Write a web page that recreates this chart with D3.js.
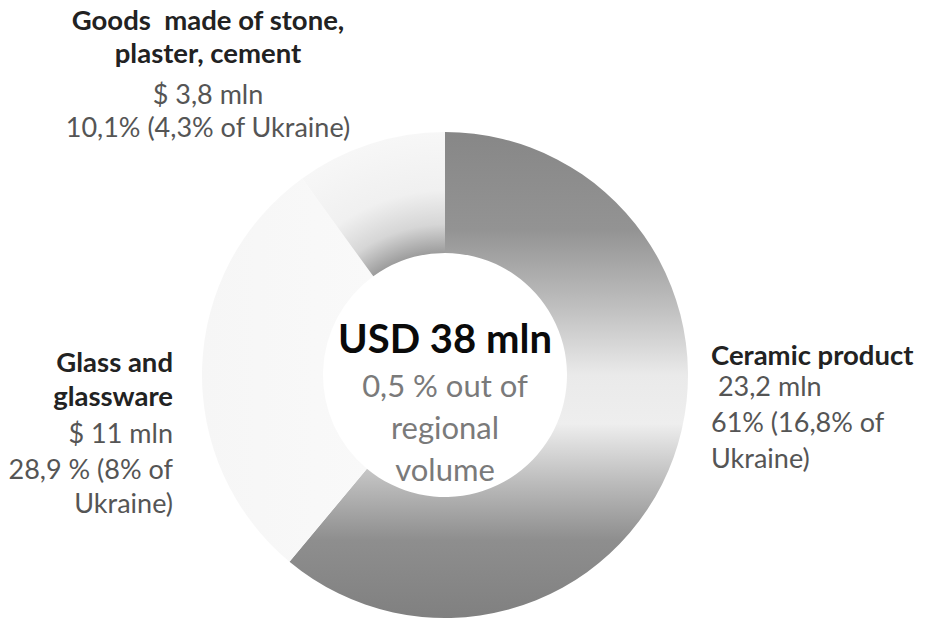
<!DOCTYPE html>
<html>
<head>
<meta charset="utf-8">
<script src="https://cdn.jsdelivr.net/npm/d3@7"></script>
<style>
  body { margin: 0; background: #ffffff; }
  svg { display: block; font-family: Lato, "Open Sans", sans-serif; }
</style>
</head>
<body>
<div id="chart"></div>
<script>
// slice data, clockwise from 12 o'clock
var categories = ['Ceramic product', 'Glass and glassware', 'Goods made of stone, plaster, cement'];
var values = [23.2, 11, 3.8];
var shares = ['61%', '28,9 %', '10,1%'];
var ukraineShares = ['16,8%', '8%', '4,3%'];

// text blocks as printed on the picture
var titleLines = [['Ceramic product'], ['Glass and', 'glassware'], ['Goods  made of stone,', 'plaster, cement']];
var detailLines = [[' 23,2 mln', '61% (16,8% of', 'Ukraine)'], ['$ 11 mln', '28,9 % (8% of', 'Ukraine)'], ['$ 3,8 mln', '10,1% (4,3% of Ukraine)']];
var centerTitle = 'USD 38 mln';
var centerLines = ['0,5 % out of', 'regional', 'volume'];

var width = 926, height = 620;
var cx = 445, cy = 375;
var outerR = 243, innerR = 122;

var svg = d3.select('#chart').append('svg')
  .attr('width', width)
  .attr('height', height);

var defs = svg.append('defs');

// gradients are in the ring's own coordinates (centre = 0,0)
// ceramic: dark top and bottom, washed out a bit below the middle
var gCer = defs.append('linearGradient')
  .attr('id', 'gradCeramic')
  .attr('gradientUnits', 'userSpaceOnUse')
  .attr('x1', 0).attr('x2', 0)
  .attr('y1', -outerR).attr('y2', outerR);
[[0, '#878787'], [0.2, '#939393'], [0.36, '#bfbfbf'], [0.5, '#eaeaea'], [0.6, '#eeeeee'], [0.72, '#bcbcbc'], [0.84, '#8e8e8e'], [1, '#808080']]
  .forEach(function (s) {
    gCer.append('stop').attr('offset', s[0]).attr('stop-color', s[1]);
  });

var gGlass = defs.append('linearGradient')
  .attr('id', 'gradGlass')
  .attr('x1', 0).attr('x2', 1).attr('y1', 0).attr('y2', 0);
gGlass.append('stop').attr('offset', 0).attr('stop-color', '#f6f6f6');
gGlass.append('stop').attr('offset', 1).attr('stop-color', '#f9f9f9');

// stone: grey along the hole, fading out towards the rim
var gStone = defs.append('radialGradient')
  .attr('id', 'gradStone')
  .attr('gradientUnits', 'userSpaceOnUse')
  .attr('cx', 0).attr('cy', 0).attr('r', outerR);
[[0, '#9a9a9a'], [innerR / outerR, '#9c9c9c'], [0.62, '#d6d6d6'], [0.76, '#f0f0f0'], [1, '#f7f7f7']]
  .forEach(function (s) {
    gStone.append('stop').attr('offset', s[0]).attr('stop-color', s[1]);
  });

var fills = ['url(#gradCeramic)', 'url(#gradGlass)', 'url(#gradStone)'];

var pie = d3.pie().sort(null).value(function (d) { return d; });
var arc = d3.arc().innerRadius(innerR).outerRadius(outerR);

var ring = svg.append('g').attr('transform', 'translate(' + cx + ',' + cy + ')');
ring.selectAll('path')
  .data(pie(values))
  .enter()
  .append('path')
  .attr('d', arc)
  .attr('fill', function (d, i) { return fills[i]; });

// centre text
var centre = svg.append('g').attr('text-anchor', 'middle');
centre.append('text')
  .attr('x', cx).attr('y', 353)
  .attr('font-size', 40).attr('font-weight', 700)
  .attr('fill', '#0a0a0a')
  .text(centerTitle);
centre.selectAll('.sub')
  .data(centerLines)
  .enter()
  .append('text')
  .attr('class', 'sub')
  .attr('x', cx)
  .attr('y', function (d, i) { return 397 + i * 42; })
  .attr('font-size', 31)
  .attr('fill', '#7a7a7a')
  .text(function (d) { return d; });

// outside labels: anchor, x, baselines of title lines, then detail lines
var labelPos = [
  { anchor: 'start', x: 711, title: [365], detail: [396, 432, 468] },
  { anchor: 'end', x: 173, title: [372, 406], detail: [443, 479, 513] },
  { anchor: 'middle', x: 208, title: [30, 63], detail: [104, 137] }
];

labelPos.forEach(function (p, i) {
  var g = svg.append('g').attr('text-anchor', p.anchor);
  titleLines[i].forEach(function (line, j) {
    g.append('text')
      .attr('x', p.x).attr('y', p.title[j])
      .attr('font-size', 27.5).attr('font-weight', 700)
      .attr('fill', '#222222')
      .style('white-space', 'pre')
      .text(line);
  });
  detailLines[i].forEach(function (line, j) {
    g.append('text')
      .attr('x', p.x).attr('y', p.detail[j])
      .attr('font-size', 27)
      .attr('fill', '#555555')
      .style('white-space', 'pre')
      .text(line);
  });
});
</script>
</body>
</html>
